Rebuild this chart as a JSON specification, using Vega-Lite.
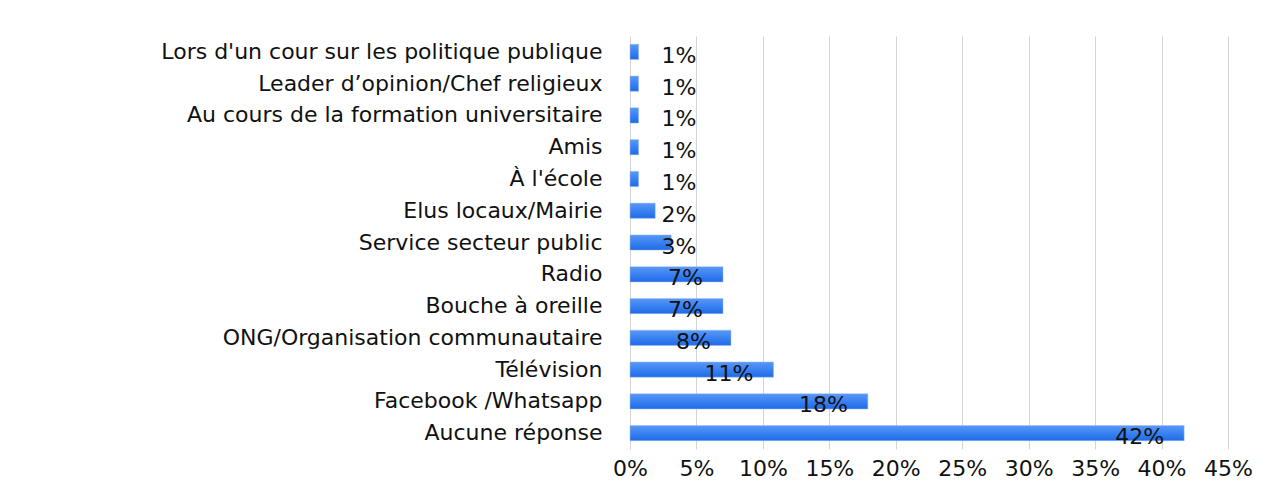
{
  "$schema": "https://vega.github.io/schema/vega-lite/v6.json",
  "autosize": {"type": "none"},
  "width": 598,
  "height": 413,
  "padding": {"left": 630, "top": 36, "right": 60, "bottom": 42},
  "background": "white",
  "config": {
    "view": {"stroke": null},
    "font": "DejaVu Sans"
  },
  "data": {
    "values": [
      {"source": "Lors d'un cour sur les politique publique", "value": 0.65, "label": "1%"},
      {"source": "Leader d’opinion/Chef religieux", "value": 0.65, "label": "1%"},
      {"source": "Au cours de la formation universitaire", "value": 0.65, "label": "1%"},
      {"source": "Amis", "value": 0.65, "label": "1%"},
      {"source": "À l'école", "value": 0.65, "label": "1%"},
      {"source": "Elus locaux/Mairie", "value": 1.9, "label": "2%"},
      {"source": "Service secteur public", "value": 3.1, "label": "3%"},
      {"source": "Radio", "value": 7.0, "label": "7%"},
      {"source": "Bouche à oreille", "value": 7.0, "label": "7%"},
      {"source": "ONG/Organisation communautaire", "value": 7.6, "label": "8%"},
      {"source": "Télévision", "value": 10.8, "label": "11%"},
      {"source": "Facebook /Whatsapp", "value": 17.9, "label": "18%"},
      {"source": "Aucune réponse", "value": 41.7, "label": "42%"}
    ]
  },
  "encoding": {
    "y": {
      "field": "source",
      "type": "nominal",
      "sort": null,
      "scale": {"paddingInner": 0.52, "paddingOuter": 0.26},
      "axis": {
        "title": null,
        "ticks": false,
        "domain": false,
        "labelFontSize": 22,
        "labelColor": "#111111",
        "labelPadding": 28,
        "labelLimit": 700,
        "labelFont": "DejaVu Sans"
      }
    }
  },
  "layer": [
    {
      "mark": {
        "type": "bar",
        "color": {
          "gradient": "linear",
          "x1": 0, "y1": 0, "x2": 0, "y2": 1,
          "stops": [
            {"offset": 0, "color": "#5a97f5"},
            {"offset": 0.5, "color": "#3a82f2"},
            {"offset": 1, "color": "#1f6ae6"}
          ]
        },
        "stroke": "#9cc0f5",
        "strokeWidth": 0.5
      },
      "encoding": {
        "x": {
          "field": "value",
          "type": "quantitative",
          "scale": {"domain": [0, 45], "nice": false},
          "axis": {
            "title": null,
            "values": [0, 5, 10, 15, 20, 25, 30, 35, 40, 45],
            "labelExpr": "datum.value + '%'",
            "ticks": false,
            "domain": false,
            "grid": true,
            "gridColor": "#d4d4d4",
            "gridWidth": 1,
            "labelFontSize": 22,
            "labelColor": "#111111",
            "labelPadding": 9,
            "labelFont": "DejaVu Sans",
            "labelFlush": false,
            "labelOverlap": false
          }
        }
      }
    },
    {
      "transform": [{"filter": "datum.value >= 5"}],
      "mark": {"type": "text", "align": "right", "baseline": "middle", "dx": -20, "dy": 4, "fontSize": 22, "color": "#111111", "font": "DejaVu Sans"},
      "encoding": {
        "x": {"field": "value", "type": "quantitative"},
        "text": {"field": "label"}
      }
    },
    {
      "transform": [{"filter": "datum.value < 5"}],
      "mark": {"type": "text", "align": "right", "baseline": "middle", "dx": 0, "dy": 4, "fontSize": 22, "color": "#111111", "font": "DejaVu Sans"},
      "encoding": {
        "x": {"datum": 5, "type": "quantitative"},
        "text": {"field": "label"}
      }
    }
  ]
}
